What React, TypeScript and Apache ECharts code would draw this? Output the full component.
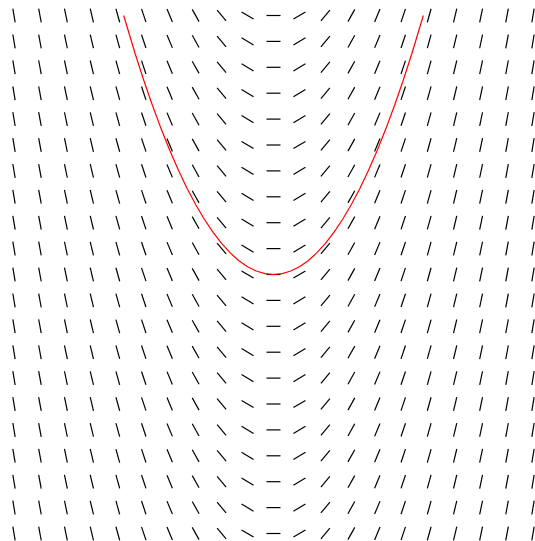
import React, { useEffect, useRef } from "react";
import * as echarts from "echarts";

// Grid positions of the slope field (x and y from -3 to 3 in 0.3 steps)
const gridX = [-3, -2.7, -2.4, -2.1, -1.8, -1.5, -1.2, -0.9, -0.6, -0.3, 0, 0.3, 0.6, 0.9, 1.2, 1.5, 1.8, 2.1, 2.4, 2.7, 3];
const gridY = [-3, -2.7, -2.4, -2.1, -1.8, -1.5, -1.2, -0.9, -0.6, -0.3, 0, 0.3, 0.6, 0.9, 1.2, 1.5, 1.8, 2.1, 2.4, 2.7, 3];
// Slope (dy/dx) read for each column
const columnSlopes = [-6, -5.4, -4.8, -4.2, -3.6, -3, -2.4, -1.8, -1.2, -0.6, 0, 0.6, 1.2, 1.8, 2.4, 3, 3.6, 4.2, 4.8, 5.4, 6];

// Red solution curve
const curveX = [-1.732, -1.6, -1.5, -1.4, -1.3, -1.2, -1.1, -1.0, -0.9, -0.8, -0.7, -0.6, -0.5, -0.4, -0.3, -0.2, -0.1, 0, 0.1, 0.2, 0.3, 0.4, 0.5, 0.6, 0.7, 0.8, 0.9, 1.0, 1.1, 1.2, 1.3, 1.4, 1.5, 1.6, 1.732];
const curveY = [3, 2.56, 2.25, 1.96, 1.69, 1.44, 1.21, 1.0, 0.81, 0.64, 0.49, 0.36, 0.25, 0.16, 0.09, 0.04, 0.01, 0, 0.01, 0.04, 0.09, 0.16, 0.25, 0.36, 0.49, 0.64, 0.81, 1.0, 1.21, 1.44, 1.69, 1.96, 2.25, 2.56, 3];

export default function App() {
  const ref = useRef<HTMLDivElement>(null);
  useEffect(() => {
    if (!ref.current) return;
    const chart = echarts.init(ref.current, null, { renderer: "svg" });
    const fieldData: number[][] = [];
    gridX.forEach((x, i) => {
      gridY.forEach((y) => {
        fieldData.push([x, y, columnSlopes[i]]);
      });
    });
    const curveData = curveX.map((x, i) => [x, curveY[i]]);
    chart.setOption({
      animation: false,
      grid: { left: 14, right: 2, top: 15.5, bottom: 7.5 },
      xAxis: { type: "value", min: -3, max: 3, show: false },
      yAxis: { type: "value", min: -3, max: 3, show: false },
      series: [
        {
          type: "custom",
          data: fieldData,
          silent: true,
          renderItem: (params: any, api: any) => {
            const x = api.value(0);
            const y = api.value(1);
            const s = api.value(2);
            const p = api.coord([x, y]);
            const eps = 0.01;
            const q = api.coord([x + eps, y + s * eps]);
            let dx = q[0] - p[0];
            let dy = q[1] - p[1];
            const len = Math.sqrt(dx * dx + dy * dy);
            dx = (dx / len) * 7;
            dy = (dy / len) * 7;
            return {
              type: "line",
              shape: { x1: p[0] - dx, y1: p[1] - dy, x2: p[0] + dx, y2: p[1] + dy },
              style: { stroke: "#000", lineWidth: 1.2 },
            };
          },
        },
        {
          type: "line",
          data: curveData,
          smooth: false,
          showSymbol: false,
          silent: true,
          lineStyle: { color: "#ff0000", width: 1.2 },
          z: 5,
        },
      ],
    });
    return () => chart.dispose();
  }, []);
  return (
    <div
      ref={ref}
      style={{ position: "fixed", left: 0, top: 0, width: 535, height: 541, background: "#fff" }}
    />
  );
}
